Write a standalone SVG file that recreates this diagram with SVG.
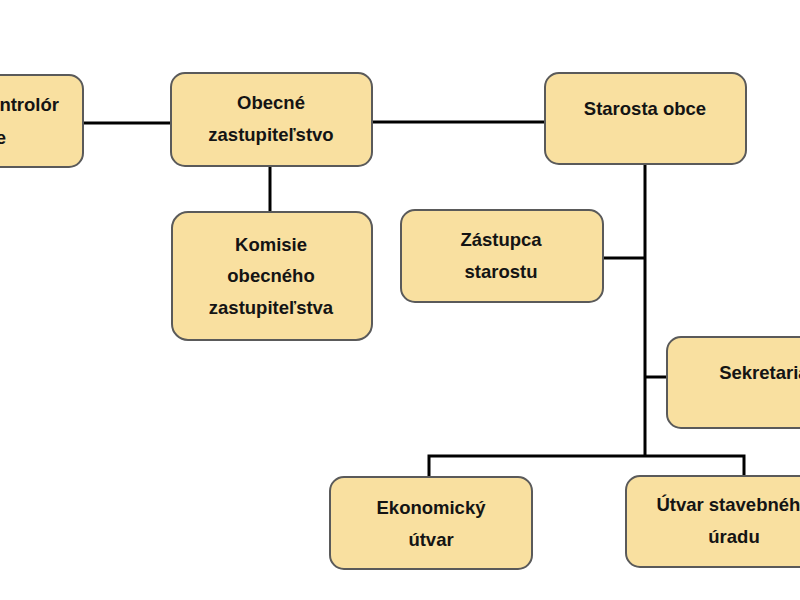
<svg xmlns="http://www.w3.org/2000/svg" width="800" height="600" viewBox="0 0 800 600">
<style>
.box{fill:#F9E0A0;stroke:#5a5a5a;stroke-width:2}
.t{font-family:"Liberation Sans",Arial,sans-serif;font-weight:bold;font-size:18.5px;fill:#141414;text-anchor:middle}
.c{stroke:#000;stroke-width:3;fill:none}
</style>
<rect width="800" height="600" fill="#fff"/>
<g id="connectors">
<line class="c" x1="83" y1="123" x2="171" y2="123"/>
<line class="c" x1="372" y1="122" x2="545" y2="122"/>
<line class="c" x1="270" y1="166" x2="270" y2="212"/>
<line class="c" x1="645" y1="164" x2="645" y2="456"/>
<line class="c" x1="603" y1="258" x2="645" y2="258"/>
<line class="c" x1="645" y1="377" x2="667" y2="377"/>
<polyline class="c" points="429,477 429,456 744,456 744,476"/>
</g>
<g id="kontrolor">
<rect class="box" x="-120" y="75" width="203" height="92" rx="14"/>
<text class="t" x="59" y="111" style="text-anchor:end">Hlavný kontrolór</text>
<text class="t" x="6" y="144" style="text-anchor:end">obce</text>
</g>
<g id="zastupitelstvo">
<rect class="box" x="171" y="73" width="201" height="93" rx="14"/>
<text class="t" x="271" y="109">Obecné</text>
<text class="t" x="271" y="141">zastupiteľstvo</text>
</g>
<g id="starosta">
<rect class="box" x="545" y="73" width="201" height="91" rx="14"/>
<text class="t" x="645" y="115">Starosta obce</text>
</g>
<g id="komisie">
<rect class="box" x="172" y="212" width="200" height="128" rx="16"/>
<text class="t" x="271" y="251">Komisie</text>
<text class="t" x="271" y="282">obecného</text>
<text class="t" x="271" y="314">zastupiteľstva</text>
</g>
<g id="zastupca">
<rect class="box" x="401" y="210" width="202" height="92" rx="14"/>
<text class="t" x="501" y="246">Zástupca</text>
<text class="t" x="501" y="278">starostu</text>
</g>
<g id="sekretariat">
<rect class="box" x="667" y="337" width="200" height="91" rx="14"/>
<text class="t" x="767" y="379">Sekretariát</text>
</g>
<g id="ekonomicky">
<rect class="box" x="330" y="477" width="202" height="92" rx="14"/>
<text class="t" x="431" y="514">Ekonomický</text>
<text class="t" x="431" y="546">útvar</text>
</g>
<g id="stavebny">
<rect class="box" x="626" y="476" width="216" height="91" rx="14"/>
<text class="t" x="734" y="511">Útvar stavebného</text>
<text class="t" x="734" y="543">úradu</text>
</g>
</svg>
